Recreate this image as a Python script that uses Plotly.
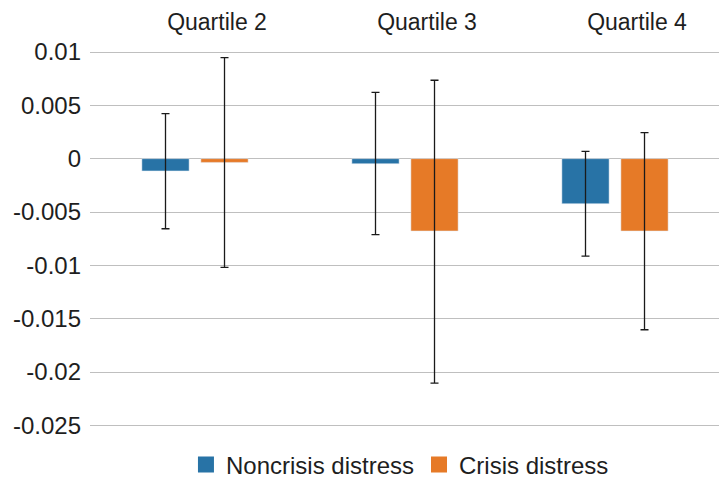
import plotly.graph_objects as go

categories = ["Quartile 2", "Quartile 3", "Quartile 4"]

noncrisis = [-0.00115, -0.00047, -0.00422]
noncrisis_hi = [0.00422, 0.00622, 0.00069]
noncrisis_lo = [-0.00657, -0.00713, -0.00913]

crisis = [-0.00035, -0.00678, -0.00678]
crisis_hi = [0.00947, 0.00735, 0.00244]
crisis_lo = [-0.0102, -0.02104, -0.01604]

ytick_vals = [0.01, 0.005, 0, -0.005, -0.01, -0.015, -0.02, -0.025]
ytick_text = ["0.01", "0.005", "0", "-0.005", "-0.01", "-0.015", "-0.02", "-0.025"]

BLUE = "#2873A6"
ORANGE = "#E67A27"
FONT = "Liberation Sans, Arial, sans-serif"

fig = go.Figure()

def add_series(name, vals, hi, lo, color):
    fig.add_trace(go.Bar(
        x=categories, y=vals, name=name, marker_color=color,
        showlegend=False,
        error_y=dict(type="data", symmetric=False,
                     array=[h - v for h, v in zip(hi, vals)],
                     arrayminus=[v - l for v, l in zip(vals, lo)],
                     color="#1a1a1a", thickness=1.3, width=4),
    ))

add_series("Noncrisis distress", noncrisis, noncrisis_hi, noncrisis_lo, BLUE)
add_series("Crisis distress", crisis, crisis_hi, crisis_lo, ORANGE)

for name, color in [("Noncrisis distress", BLUE), ("Crisis distress", ORANGE)]:
    fig.add_trace(go.Scatter(
        x=[None], y=[None], mode="markers", name=name,
        marker=dict(symbol="square", size=16, color=color),
        showlegend=True,
    ))

fig.update_layout(
    width=719, height=472,
    margin=dict(l=82, r=7, t=28, b=44, autoexpand=False),
    paper_bgcolor="white", plot_bgcolor="white",
    barmode="group", bargap=0.438, bargroupgap=0.2,
    font=dict(family=FONT, size=24, color="#1e1e1e"),
    legend=dict(orientation="h", x=0.492, xanchor="center", y=-0.072, yanchor="middle",
                font=dict(size=24), itemsizing="trace", traceorder="normal",
                itemwidth=30, tracegroupgap=0),
    xaxis=dict(side="top", showline=False, ticks="", showgrid=False, automargin=False,
               ticklabelshift=22, tickfont=dict(size=23)),
    yaxis=dict(range=[-0.026, 0.0115], tickvals=ytick_vals, ticktext=ytick_text,
               showgrid=True, gridcolor="#BFBFBF", gridwidth=1,
               zeroline=True, zerolinecolor="#BFBFBF", zerolinewidth=1,
               showline=False, ticks="", ticklabelstandoff=8, automargin=False,
               tickfont=dict(size=24)),
)

fig.write_html("out.html")
